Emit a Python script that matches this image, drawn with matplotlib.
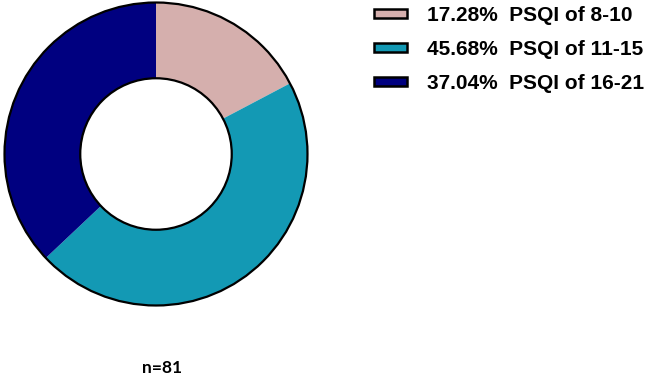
import matplotlib
matplotlib.use("Agg")
import matplotlib.pyplot as plt
from matplotlib.patches import Circle, Patch

# data
shares = [17.28, 45.68, 37.04]
ranges = ["8-10", "11-15", "16-21"]
colors = ["#D5AFAD", "#1399B4", "#000080"]
n_total = 81

W, H = 649, 375
fig = plt.figure(figsize=(W / 100, H / 100), dpi=100)

# donut axes: circle centre ~(156,154) px, radius ~154 px
cx, cy, r = 156, 154, 153
ax = fig.add_axes([(cx - r) / W, (H - cy - r) / H, 2 * r / W, 2 * r / H])
ax.pie(shares, colors=colors, startangle=90, counterclock=False,
       radius=1.0, wedgeprops=dict(width=0.5, linewidth=0))
ax.add_patch(Circle((0, 0), 1.0, fill=False, edgecolor="black", linewidth=1.6))
ax.add_patch(Circle((0, 0), 0.5, fill=False, edgecolor="black", linewidth=1.6))
ax.set_xlim(-1.01, 1.01)
ax.set_ylim(-1.01, 1.01)
ax.set_aspect("equal")
ax.axis("off")

handles = [Patch(facecolor=c, edgecolor="black", linewidth=1.8) for c in colors]
labels = [f"{s:.2f}%  PSQI of {rg}" for s, rg in zip(shares, ranges)]
fig.legend(handles, labels, loc="upper left", bbox_to_anchor=(374 / W, 1 - 6 / H),
           frameon=False, borderpad=0, borderaxespad=0,
           handlelength=1.6, handleheight=0.35,
           handletextpad=0.95, labelspacing=0.72,
           prop=dict(family="Liberation Sans", weight="bold", size=15))

fig.text(162.5 / W, 1 - 368 / H, f"n={n_total}", ha="center", va="center",
         fontfamily="Lato", fontweight="bold", fontsize=12.5)

fig.savefig("out.png", dpi=100)
